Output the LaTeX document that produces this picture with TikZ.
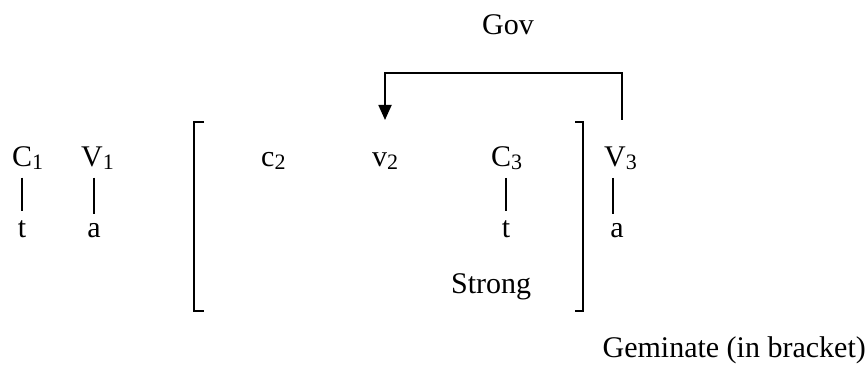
\documentclass[tikz,border=0pt]{standalone}
\usepackage{fontspec}
\setmainfont{Liberation Serif}
\usetikzlibrary{arrows.meta}
\newcommand{\sbs}[1]{{\fontsize{22}{22}\selectfont\raisebox{-2.5pt}{#1}}}
\begin{document}
\begin{tikzpicture}[x=1pt,y=-1pt,
  lbl/.style={inner sep=0pt,font=\fontsize{30}{36}\selectfont},
  bar/.style={line width=2pt,shorten <=8pt,shorten >=9pt},
  brk/.style={line width=2pt},
  gov/.style={line width=1.8pt,-{Triangle[width=13pt,length=15pt]}}]
\useasboundingbox (0,0) rectangle (866,371);
% top row
\node[lbl,anchor=base west] (C1) at (12,167) {C\sbs{1}};
\node[lbl,anchor=base west] (V1) at (81,167) {V\sbs{1}};
\node[lbl,anchor=base west] (c2) at (261,167) {c\sbs{2}};
\node[lbl,anchor=base west] (v2) at (372,167) {v\sbs{2}};
\node[lbl,anchor=base west] (C3) at (491,167) {C\sbs{3}};
\node[lbl,anchor=base west] (V3) at (604,167) {V\sbs{3}};
% bottom row
\node[lbl,anchor=base] (t1) at (22,237) {t};
\node[lbl,anchor=base] (a1) at (94,237) {a};
\node[lbl,anchor=base] (t3) at (506,237) {t};
\node[lbl,anchor=base] (a3) at (617,237) {a};
% labels
\node[lbl,anchor=base west] (strong) at (451,293) {Strong};
\node[lbl,anchor=base west] (govl) at (482,35) {Gov};
\node[lbl,anchor=base east] (gem) at (866,357) {Geminate (in bracket)};
% association lines
\draw[bar] (t1.north |- C1.south) -- (t1.north);
\draw[bar] (a1.north |- V1.south) -- (a1.north);
\draw[bar] (t3.north |- C3.south) -- (t3.north);
\draw[bar] ([xshift=-4pt]a3.north |- V3.south) -- ([xshift=-4pt]a3.north);
% brackets
\draw[brk] (204,122) -- (194,122) -- (194,311) -- (204,311);
\draw[brk] (575,122) -- (583,122) -- (583,311) -- (575,311);
% government arrow
\coordinate (gstart) at (622,120);
\coordinate (gend) at (385,120);
\draw[gov] (gstart) -- (622,73) -- (385,73) -- (gend);
\end{tikzpicture}
\end{document}
